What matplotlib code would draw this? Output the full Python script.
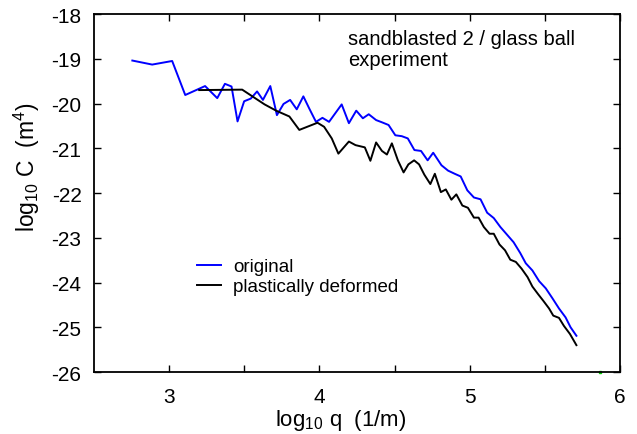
import numpy as np
import matplotlib
matplotlib.use('Agg')
import matplotlib.pyplot as plt

plt.rcParams['font.family'] = ['Liberation Sans', 'DejaVu Sans']
plt.rcParams['mathtext.fontset'] = 'custom'
plt.rcParams['mathtext.rm'] = 'Liberation Sans'
plt.rcParams['mathtext.it'] = 'Liberation Sans:italic'
plt.rcParams['mathtext.default'] = 'regular'
plt.rcParams['axes.unicode_minus'] = False

# 元の表面 (original)
q_orig = [2.755, 2.887, 3.02, 3.107, 3.239, 3.32, 3.371, 3.415, 3.455, 3.499,
          3.543, 3.585, 3.624, 3.673, 3.717, 3.761, 3.805, 3.849, 3.893, 3.932,
          3.977, 4.02, 4.064, 4.148, 4.196, 4.245, 4.289, 4.328, 4.377, 4.416,
          4.46, 4.505, 4.548, 4.588, 4.632, 4.676, 4.72, 4.757, 4.812, 4.856,
          4.90, 4.94, 4.984, 5.028, 5.072, 5.116, 5.16, 5.204, 5.248, 5.292,
          5.336, 5.373, 5.417, 5.462, 5.506, 5.55, 5.594, 5.638, 5.671, 5.71]
C_orig = [-19.04, -19.13, -19.05, -19.81, -19.61, -19.88, -19.56, -19.62, -20.40, -19.95,
          -19.89, -19.73, -19.92, -19.61, -20.26, -20.01, -19.92, -20.13, -19.84, -20.11,
          -20.41, -20.32, -20.41, -20.02, -20.44, -20.16, -20.33, -20.24, -20.37, -20.42,
          -20.48, -20.71, -20.73, -20.78, -21.04, -21.06, -21.27, -21.10, -21.38, -21.50,
          -21.57, -21.63, -21.94, -22.10, -22.14, -22.44, -22.56, -22.76, -22.93, -23.10,
          -23.34, -23.57, -23.73, -23.97, -24.13, -24.35, -24.58, -24.78, -25.00, -25.19]

# 塑性変形後 (plastically deformed)
q_pl = [3.2, 3.486, 3.558, 3.635, 3.712, 3.80, 3.866, 3.987, 4.031, 4.082,
        4.126, 4.196, 4.24, 4.302, 4.339, 4.377, 4.416, 4.449, 4.482, 4.522,
        4.56, 4.592, 4.63, 4.663, 4.698, 4.738, 4.768, 4.808, 4.841, 4.878,
        4.911, 4.951, 4.988, 5.028, 5.059, 5.094, 5.132, 5.16, 5.198, 5.235,
        5.27, 5.307, 5.345, 5.385, 5.417, 5.455, 5.49, 5.528, 5.556, 5.594,
        5.627, 5.667, 5.71]
C_pl = [-19.70, -19.69, -19.85, -20.02, -20.16, -20.29, -20.59, -20.43, -20.52, -20.78,
        -21.12, -20.85, -20.93, -20.98, -21.28, -20.87, -21.06, -21.14, -20.89, -21.27,
        -21.54, -21.36, -21.27, -21.36, -21.59, -21.80, -21.57, -21.98, -21.92, -22.15,
        -22.03, -22.28, -22.33, -22.55, -22.55, -22.76, -22.91, -22.91, -23.15, -23.28,
        -23.49, -23.54, -23.69, -23.88, -24.09, -24.26, -24.41, -24.58, -24.74, -24.79,
        -24.97, -25.15, -25.40]

# 下端の小さな緑の点
q_green = [5.87]
C_green = [-26.0]

fig = plt.figure(figsize=(6.37, 4.35), dpi=100)
ax = fig.add_axes([0.1476, 0.1425, 0.8257, 0.823])

ax.plot(q_orig, C_orig, color='#0000ff', lw=1.4, label='original')
ax.plot(q_pl, C_pl, color='black', lw=1.4, label='plastically deformed')
ax.plot(q_green, C_green, 's', color='#00cc00', ms=1.5, clip_on=False)

ax.set_xlim(2.5, 6)
ax.set_ylim(-26, -18)
ax.set_xticks([3, 4, 5, 6])
ax.set_xticks([3.5, 4.5, 5.5], minor=True)
ax.set_yticks(np.arange(-26, -17, 1))
ax.tick_params(which='both', direction='in', top=True, right=True, length=5, width=1)
ax.tick_params(axis='x', labelsize=15, pad=10.5)
ax.tick_params(axis='y', labelsize=15, pad=9)
for s in ax.spines.values():
    s.set_linewidth(1.3)

ax.set_xlabel(r'log$_{10}$ q  (1/m)', fontsize=16)
ax.xaxis.set_label_coords(0.468, -0.097)
ax.set_ylabel(r'log$_{10}$ C  (m$^4$)', fontsize=16.5)
ax.yaxis.set_label_coords(-0.098, 0.575)

ax.text(0.483, 0.958, 'sandblasted 2 / glass ball\nexperiment', transform=ax.transAxes,
        fontsize=14.5, va='top', ha='left', linespacing=1.15)

ax.legend(loc='upper left', bbox_to_anchor=(0.196, 0.318), frameon=False, fontsize=13.5,
          handlelength=1.28, handletextpad=0.64, labelspacing=0.15, borderpad=0,
          borderaxespad=0)

plt.savefig('out.png', dpi=100)
